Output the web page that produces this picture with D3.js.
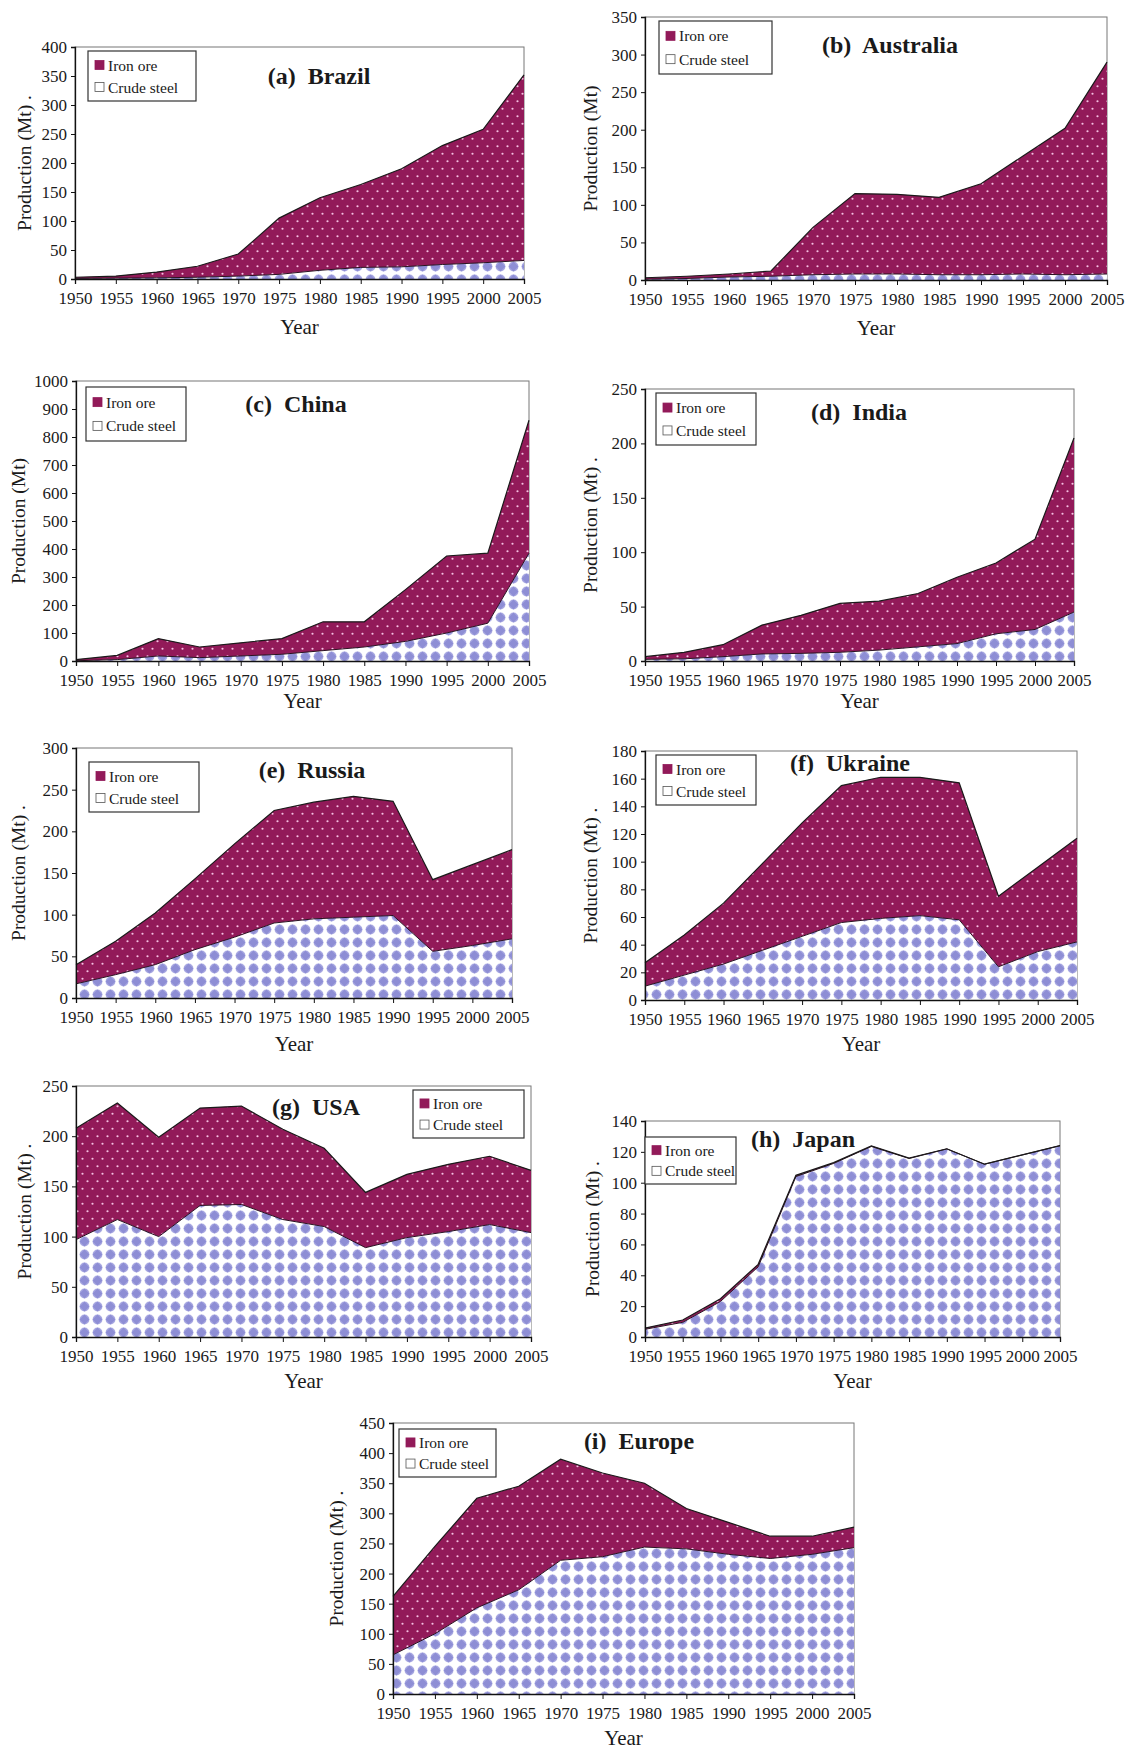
<!DOCTYPE html>
<html>
<head>
<meta charset="utf-8">
<script src="https://cdn.jsdelivr.net/npm/d3@7"></script>
<style>
  html, body { margin: 0; padding: 0; background: #fff; }
  svg text { font-family: "Liberation Serif", "Times New Roman", serif; fill: #1a1a1a; }
</style>
</head>
<body>
<svg id="chart" width="1132" height="1749"></svg>
<script>
// ---------------- DATA ----------------
const years = [1950, 1955, 1960, 1965, 1970, 1975, 1980, 1985, 1990, 1995, 2000, 2005];
const seriesNames = ["Iron ore", "Crude steel"];

const brazilIron     = [2, 3.5, 10, 19, 38, 97, 125, 143, 169, 205, 230, 320];
const brazilSteel    = [1, 1.5, 2, 3, 5, 8, 15, 20, 21, 25, 28, 32];
const australiaIron  = [2, 3, 4, 7, 63, 107, 106, 103, 121, 157, 195, 282];
const australiaSteel = [1, 2, 4, 5, 7, 8, 8, 7, 7, 8, 7, 8];
const chinaIron      = [4, 15, 62, 38, 47, 56, 103, 90, 185, 275, 250, 475];
const chinaSteel     = [1, 5, 18, 12, 18, 24, 37, 50, 70, 100, 135, 385];
const indiaIron      = [2.5, 6, 11, 26.5, 35, 45, 45, 49, 61, 65, 83, 160];
const indiaSteel     = [1.5, 2, 4, 6.5, 7, 8, 10, 13, 16, 25, 29, 45];
const russiaIron     = [23, 40, 62, 85, 112, 135, 140, 145, 137, 86, 97, 107];
const russiaSteel    = [17, 28, 40, 58, 73, 90, 95, 97, 99, 56, 63, 71];
const ukraineIron    = [17, 29, 44, 63, 82, 99, 102, 100, 99, 51, 61, 75];
const ukraineSteel   = [10, 18, 26, 36, 46, 56, 59, 61, 58, 24, 35, 42];
const usaIron        = [111, 116, 99, 97, 98, 90, 78, 55, 63, 67, 68, 62];
const usaSteel       = [97, 117, 100, 131, 132, 117, 110, 89, 99, 105, 112, 104];
const japanIron      = [0.8, 1.5, 1.8, 1.6, 0.8, 0.5, 0.4, 0.3, 0.1, 0, 0, 0];
const japanSteel     = [5, 9.5, 23, 45.5, 104, 112.5, 123.5, 115.7, 121.9, 112, 118, 124];
const europeIron     = [97, 145, 182, 172, 168, 139, 106, 67, 53, 37, 30, 34];
const europeSteel    = [65, 100, 143, 173, 222, 228, 244, 241, 232, 225, 232, 243];

const brazilTicks    = [0, 50, 100, 150, 200, 250, 300, 350, 400];
const australiaTicks = [0, 50, 100, 150, 200, 250, 300, 350];
const chinaTicks     = [0, 100, 200, 300, 400, 500, 600, 700, 800, 900, 1000];
const indiaTicks     = [0, 50, 100, 150, 200, 250];
const russiaTicks    = [0, 50, 100, 150, 200, 250, 300];
const ukraineTicks   = [0, 20, 40, 60, 80, 100, 120, 140, 160, 180];
const usaTicks       = [0, 50, 100, 150, 200, 250];
const japanTicks     = [0, 20, 40, 60, 80, 100, 120, 140];
const europeTicks    = [0, 50, 100, 150, 200, 250, 300, 350, 400, 450];

const titles = ["(a)  Brazil", "(b)  Australia", "(c)  China", "(d)  India", "(e)  Russia",
                "(f)  Ukraine", "(g)  USA", "(h)  Japan", "(i)  Europe"];
const yLabels = ["Production (Mt) .", "Production (Mt)", "Production (Mt)", "Production (Mt) .",
                 "Production (Mt) .", "Production (Mt) .", "Production (Mt) .", "Production (Mt) .", "Production (Mt) ."];

// ---------------- LAYOUT ----------------
const panels = [
  {iron: brazilIron, steel: brazilSteel, ticks: brazilTicks, L: 75, R: 524, T: 47, B: 279, yl: 51, yr: 48,
   title: [319, 76], legend: [88, 51, 108, 50]},
  {iron: australiaIron, steel: australiaSteel, ticks: australiaTicks, L: 645, R: 1107, T: 17, B: 280, yl: 55, yr: 48,
   title: [890, 45], legend: [659, 21, 113, 53]},
  {iron: chinaIron, steel: chinaSteel, ticks: chinaTicks, L: 76, R: 529, T: 381, B: 661, yl: 58, yr: 40,
   title: [296, 404], legend: [86, 387, 100, 54]},
  {iron: indiaIron, steel: indiaSteel, ticks: indiaTicks, L: 645, R: 1074, T: 389, B: 661, yl: 55, yr: 40,
   title: [859, 412], legend: [656, 393, 100, 52]},
  {iron: russiaIron, steel: russiaSteel, ticks: russiaTicks, L: 76, R: 512, T: 748, B: 998, yl: 58, yr: 46,
   title: [312, 770], legend: [89, 762, 110, 50]},
  {iron: ukraineIron, steel: ukraineSteel, ticks: ukraineTicks, L: 645, R: 1077, T: 751, B: 1000, yl: 55, yr: 44,
   title: [850, 763], legend: [656, 755, 100, 50]},
  {iron: usaIron, steel: usaSteel, ticks: usaTicks, L: 76, R: 531, T: 1086, B: 1337, yl: 52, yr: 44,
   title: [316, 1107], legend: [413, 1090, 111, 48]},
  {iron: japanIron, steel: japanSteel, ticks: japanTicks, L: 645, R: 1060, T: 1121, B: 1337, yl: 53, yr: 44,
   title: [803, 1139], legend: [645, 1137, 91, 47]},
  {iron: europeIron, steel: europeSteel, ticks: europeTicks, L: 393, R: 854, T: 1423, B: 1694, yl: 57, yr: 44,
   title: [639, 1441], legend: [399, 1429, 97, 48]}
];

const IRON = "#921a59";
const svg = d3.select("#chart");
const defs = svg.append("defs");

// Iron ore pattern: maroon with small light dots
const pi = defs.append("pattern").attr("id", "ironPat").attr("patternUnits", "userSpaceOnUse")
  .attr("width", 10).attr("height", 15);
pi.append("rect").attr("width", 10).attr("height", 15).attr("fill", IRON);
pi.append("circle").attr("cx", 2.5).attr("cy", 3.75).attr("r", 1.1).attr("fill", "#f6c0e2");
pi.append("circle").attr("cx", 7.5).attr("cy", 11.25).attr("r", 1.1).attr("fill", "#f6c0e2");

// Crude steel pattern: white with lavender rounded diamonds in a grid
const ps = defs.append("pattern").attr("id", "steelPat").attr("patternUnits", "userSpaceOnUse")
  .attr("width", 13).attr("height", 13);
ps.append("rect").attr("width", 13).attr("height", 13).attr("fill", "#ffffff");
ps.append("circle").attr("cx", 6.5).attr("cy", 6.5).attr("r", 4.9).attr("fill", "#a9a9e2");
ps.append("path").attr("d", "M6.5,1.6 L11.4,6.5 L6.5,11.4 L1.6,6.5 Z").attr("fill", "#8e8ed5");

panels.forEach((p, i) => {
  const rows = years.map((yr, k) => ({year: yr, steel: p.steel[k], iron: p.iron[k]}));
  const stacked = d3.stack().keys(["steel", "iron"])(rows);

  const x = d3.scaleLinear().domain([years[0], years[years.length - 1]]).range([p.L, p.R]);
  const y = d3.scaleLinear().domain([0, d3.max(p.ticks)]).range([p.B, p.T]);

  const g = svg.append("g");

  // plot frame
  g.append("rect").attr("x", p.L).attr("y", p.T).attr("width", p.R - p.L).attr("height", p.B - p.T)
    .attr("fill", "#fff").attr("stroke", "#777").attr("stroke-width", 1);

  const area = d3.area().x(d => x(d.data.year)).y0(d => y(d[0])).y1(d => y(d[1]));
  const topLine = d3.line().x(d => x(d.data.year)).y(d => y(d[1]));

  // iron (upper band) then steel (lower band)
  g.append("path").datum(stacked[1]).attr("d", area).attr("fill", "url(#ironPat)");
  g.append("path").datum(stacked[0]).attr("d", area).attr("fill", "url(#steelPat)");
  g.append("path").datum(stacked[0]).attr("d", topLine).attr("fill", "none").attr("stroke", "#2a1020").attr("stroke-width", 1);
  g.append("path").datum(stacked[1]).attr("d", topLine).attr("fill", "none").attr("stroke", "#1a1a1a").attr("stroke-width", 1.2);

  // axes
  const yAxis = d3.axisLeft(y).tickValues(p.ticks).tickSize(4).tickPadding(4).tickFormat(d3.format("d"));
  const xAxis = d3.axisBottom(x).tickValues(years).tickSize(5).tickPadding(8).tickFormat(d3.format("d"));
  const ya = g.append("g").attr("transform", `translate(${p.L},0)`).call(yAxis);
  const xa = g.append("g").attr("transform", `translate(0,${p.B})`).call(xAxis);
  [ya, xa].forEach(a => {
    a.select(".domain").attr("stroke", "#111").attr("stroke-width", 1.3);
    a.selectAll(".tick line").attr("stroke", "#111");
    a.selectAll(".tick text").attr("font-size", 17).attr("font-family", "Liberation Serif").attr("fill", "#222");
  });

  // axis titles
  g.append("text").attr("transform", `translate(${p.L - p.yl},${(p.T + p.B) / 2}) rotate(-90)`)
    .attr("text-anchor", "middle").attr("dominant-baseline", "central")
    .attr("font-size", 19.5).text(yLabels[i]);
  g.append("text").attr("x", (p.L + p.R) / 2).attr("y", p.B + p.yr)
    .attr("text-anchor", "middle").attr("dominant-baseline", "central")
    .attr("font-size", 21).text("Year");

  // panel title
  g.append("text").attr("x", p.title[0]).attr("y", p.title[1])
    .attr("text-anchor", "middle").attr("dominant-baseline", "central")
    .attr("font-size", 24).attr("font-weight", "bold").style("white-space", "pre").text(titles[i]);

  // legend
  const [lx, ly, lw, lh] = p.legend;
  const lg = g.append("g").attr("transform", `translate(${lx},${ly})`);
  lg.append("rect").attr("width", lw).attr("height", lh).attr("fill", "#fff").attr("stroke", "#333").attr("stroke-width", 1.2);
  seriesNames.forEach((name, k) => {
    const cy = lh * (k === 0 ? 0.28 : 0.72);
    lg.append("rect").attr("x", 7).attr("y", cy - 4.5).attr("width", 9).attr("height", 9)
      .attr("fill", k === 0 ? IRON : "#fff").attr("stroke", k === 0 ? IRON : "#555").attr("stroke-width", 0.8);
    lg.append("text").attr("x", 20).attr("y", cy).attr("dominant-baseline", "central")
      .attr("font-size", 15.5).text(name);
  });
});
</script>
</body>
</html>
